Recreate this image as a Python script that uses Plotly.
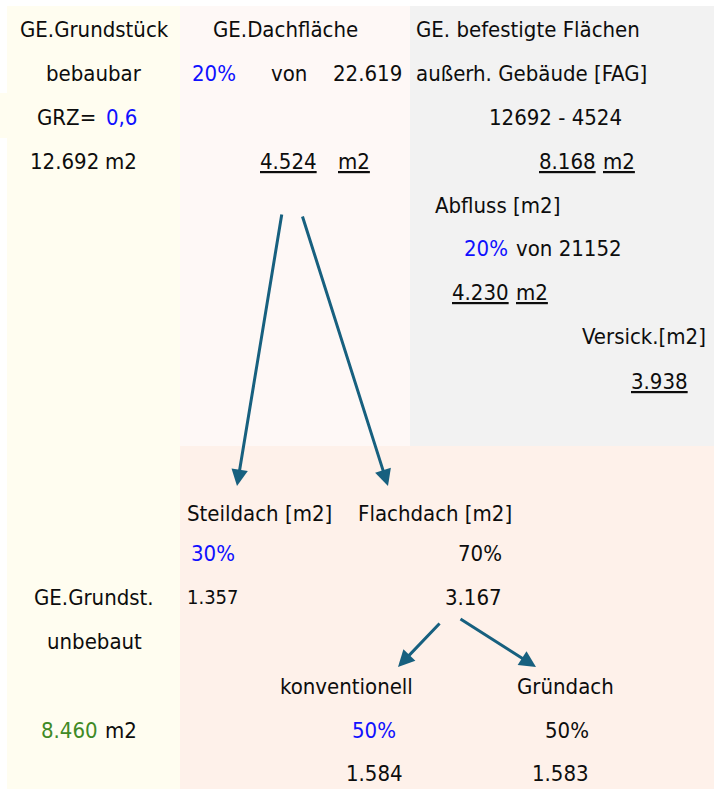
import plotly.graph_objects as go

# ---------------- data ----------------
grundstueck_labels = ["GE.Grundstück", "bebaubar", "GRZ=", "m2"]
grz_value = "0,6"
grundstueck_bebaubar = "12.692"
dach_title = "GE.Dachfläche"
dach_share = "20%"
dach_von = "von"
dach_total = "22.619"
dach_area = "4.524"
fag_title = ["GE. befestigte Flächen", "außerh. Gebäude [FAG]"]
fag_formula = "12692 - 4524"
fag_area = "8.168"
abfluss_title = "Abfluss [m2]"
abfluss_share = "20%"
abfluss_von = "von 21152"
abfluss_area = "4.230"
versick_title = "Versick.[m2]"
versick_area = "3.938"
steil_title = "Steildach [m2]"
steil_share = "30%"
steil_area = "1.357"
flach_title = "Flachdach [m2]"
flach_share = "70%"
flach_area = "3.167"
unbebaut_labels = ["GE.Grundst.", "unbebaut"]
unbebaut_area = "8.460"
konv_title = "konventionell"
konv_share = "50%"
konv_area = "1.584"
gruen_title = "Gründach"
gruen_share = "50%"
gruen_area = "1.583"

# ---------------- style ----------------
FONT = "DejaVu Sans, sans-serif"
FS = 22
BLACK = "#0d0d0d"
BLUE = "#1010ff"
GREEN = "#3f8a26"
ARROW = "#17607f"

W, H = 724, 789
fig = go.Figure()
fig.update_layout(
    width=W, height=H, margin=dict(l=0, r=0, t=0, b=0),
    paper_bgcolor="white", plot_bgcolor="white",
    xaxis=dict(range=[0, W], visible=False, fixedrange=True),
    yaxis=dict(range=[H, 0], visible=False, fixedrange=True),
    showlegend=False,
)

# background regions (cells)
bg = [
    (7, 6, 180, H, "#fffdf0"),
    (0, 93, 180, 138, "#fffdf0"),
    (180, 6, 410, 446, "#fef8f6"),
    (410, 6, 714, 446, "#f2f2f2"),
    (180, 446, 714, H, "#fef1ea"),
]
for x0, y0, x1, y1, c in bg:
    fig.add_shape(type="rect", x0=x0, y0=y0, x1=x1, y1=y1, xref="x", yref="y",
                  fillcolor=c, line=dict(width=0), layer="below")

def U(s):
    return '<span style="text-decoration:underline">' + s + '</span>'

def txt(x, y, s, anchor="left", color=BLACK, size=FS):
    fig.add_annotation(x=x, y=y, xref="x", yref="y",
                       text='<span style="font-stretch:condensed">' + s + '</span>',
                       showarrow=False, xanchor=anchor, yanchor="middle",
                       font=dict(family=FONT, size=size, color=color))

# rows
r = [29, 73, 117, 161, 205, 248, 292, 336, 381]
rb = [513, 553, 597, 641, 686, 730, 773]

# left column
txt(94, r[0], grundstueck_labels[0], "center")
txt(94, r[1], grundstueck_labels[1], "center")
txt(35, r[2], grundstueck_labels[2])
txt(104, r[2], grz_value, color=BLUE)
txt(28, r[3], grundstueck_bebaubar)
txt(103, r[3], grundstueck_labels[3])
txt(94, rb[2], unbebaut_labels[0], "center")
txt(94, rb[3], unbebaut_labels[1], "center")
txt(39, rb[5], unbebaut_area, color=GREEN)
txt(103, rb[5], "m2")

# Dachfläche
txt(285, r[0], dach_title, "center")
txt(190, r[1], dach_share, color=BLUE)
txt(269, r[1], dach_von)
txt(404, r[1], dach_total, "right")
txt(258, r[3], U(dach_area))
txt(336, r[3], U("m2"))

# befestigte Flächen
txt(414, r[0], fag_title[0])
txt(414, r[1], fag_title[1])
txt(555, r[2], fag_formula, "center")
txt(537, r[3], U(fag_area))
txt(601, r[3], U("m2"))
txt(433, r[4], abfluss_title)
txt(462, r[5], abfluss_share, color=BLUE)
txt(514, r[5], abfluss_von)
txt(450, r[6], U(abfluss_area))
txt(514, r[6], U("m2"))
txt(708, r[7], versick_title, "right")
txt(629, r[8], U(versick_area))

# bottom section
txt(185, rb[0], steil_title)
txt(189, rb[1], steil_share, color=BLUE)
txt(185, rb[2], steil_area, size=20)
txt(356, rb[0], flach_title)
txt(504, rb[1], flach_share, "right")
txt(504, rb[2], flach_area, "right")
txt(278, rb[4], konv_title)
txt(350, rb[5], konv_share, color=BLUE)
txt(405, rb[6], konv_area, "right")
txt(515, rb[4], gruen_title)
txt(591, rb[5], gruen_share, "right")
txt(591, rb[6], gruen_area, "right")

# arrows (tail -> head)
arrows = [((282, 213), (237, 486)), ((302, 215), (388, 486)),
          ((441, 622), (398, 667)), ((459, 618), (536, 667))]
for (tx, ty), (hx, hy) in arrows:
    fig.add_annotation(x=hx, y=hy, ax=tx, ay=ty, xref="x", yref="y",
                       axref="x", ayref="y", text="", showarrow=True,
                       arrowhead=2, arrowsize=1.1, arrowwidth=3, arrowcolor=ARROW)

fig.write_html("out.html", config={"displayModeBar": False},
               post_script="document.body.style.margin='0';document.body.style.overflow='hidden';")
